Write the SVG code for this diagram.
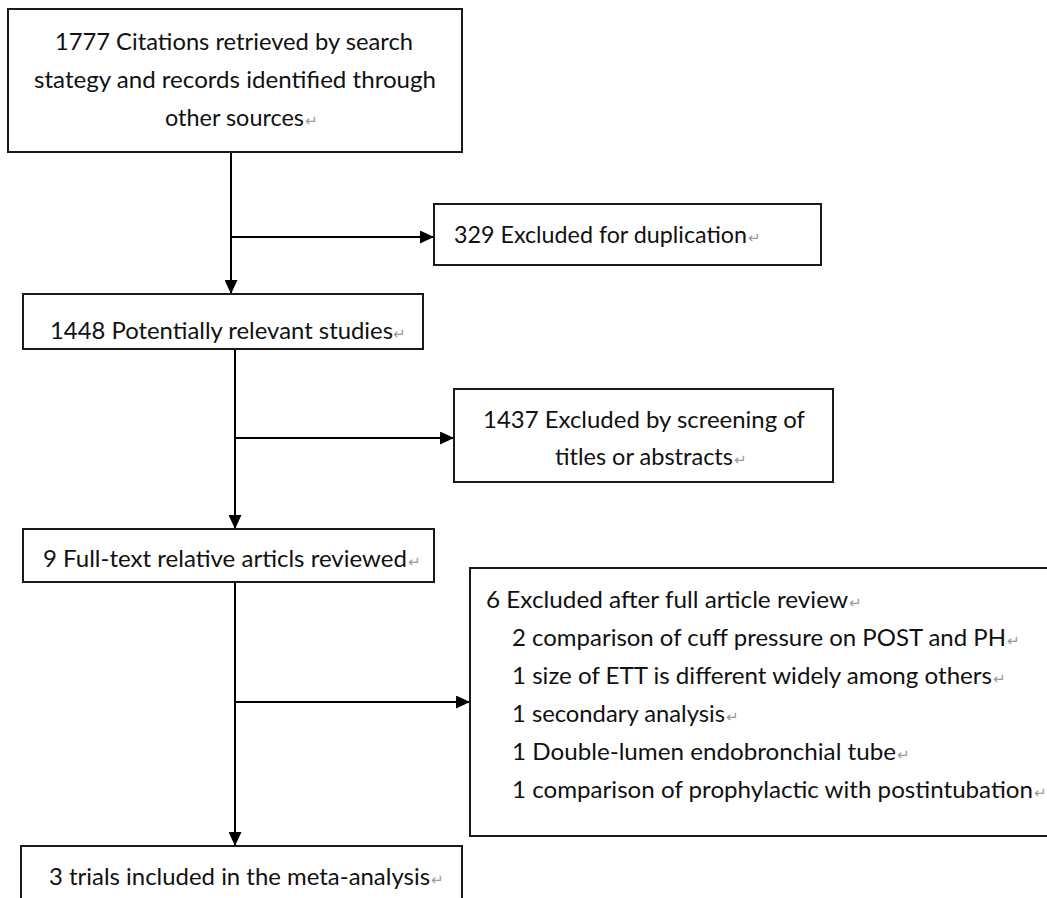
<svg xmlns="http://www.w3.org/2000/svg" width="1047" height="898" viewBox="0 0 1047 898">
<style>
.box{fill:#fff;stroke:#1a1a1a;stroke-width:2}
.t{font-family:Lato,"Liberation Sans",sans-serif;font-size:23px;fill:#111}
.r{font-family:"DejaVu Sans",sans-serif;font-size:15px;fill:#9a9a9a}
.c{stroke:#000;stroke-width:2;fill:none}
</style>
<defs>
<marker id="ah" viewBox="0 0 14 13" refX="14" refY="6.5" markerWidth="14" markerHeight="13" markerUnits="userSpaceOnUse" orient="auto">
<path d="M0,0 L14,6.5 L0,13 z" fill="#000"/>
</marker>
</defs>
<rect width="1047" height="898" fill="#fff"/>
<g id="connectors">
<line class="c" x1="231" y1="152" x2="231" y2="294" marker-end="url(#ah)"/>
<line class="c" x1="231" y1="237" x2="434" y2="237" marker-end="url(#ah)"/>
<line class="c" x1="235" y1="350" x2="235" y2="529" marker-end="url(#ah)"/>
<line class="c" x1="235" y1="438" x2="454" y2="438" marker-end="url(#ah)"/>
<line class="c" x1="235" y1="583" x2="235" y2="846" marker-end="url(#ah)"/>
<line class="c" x1="235" y1="702" x2="470" y2="702" marker-end="url(#ah)"/>
</g>
<g id="n1">
<rect class="box" x="8" y="9" width="454" height="143"/>
<text class="t" x="55" y="50" textLength="358" lengthAdjust="spacingAndGlyphs">1777 Citations retrieved by search</text>
<text class="t" x="34" y="88" textLength="402" lengthAdjust="spacingAndGlyphs">stategy and records identified through</text>
<text class="t" x="165" y="126" textLength="139" lengthAdjust="spacingAndGlyphs">other sources</text>
<text class="r" x="305" y="126">↵</text>
</g>
<g id="n2">
<rect class="box" x="434" y="204" width="387" height="61"/>
<text class="t" x="454" y="243" textLength="293" lengthAdjust="spacingAndGlyphs">329 Excluded for duplication</text>
<text class="r" x="748" y="243">↵</text>
</g>
<g id="n3">
<rect class="box" x="23" y="294" width="400" height="55"/>
<text class="t" x="50" y="339" textLength="343" lengthAdjust="spacingAndGlyphs">1448 Potentially relevant studies</text>
<text class="r" x="393" y="339">↵</text>
</g>
<g id="n4">
<rect class="box" x="454" y="389" width="379" height="93"/>
<text class="t" x="483" y="428" textLength="322" lengthAdjust="spacingAndGlyphs">1437 Excluded by screening of</text>
<text class="t" x="555" y="465" textLength="178" lengthAdjust="spacingAndGlyphs">titles or abstracts</text>
<text class="r" x="734" y="465">↵</text>
</g>
<g id="n5">
<rect class="box" x="23" y="529" width="411" height="53"/>
<text class="t" x="43" y="567" textLength="364" lengthAdjust="spacingAndGlyphs">9 Full-text relative articls reviewed</text>
<text class="r" x="408" y="567">↵</text>
</g>
<g id="n6">
<rect class="box" x="470" y="568" width="590" height="268"/>
<text class="t" x="486" y="608" textLength="362" lengthAdjust="spacingAndGlyphs">6 Excluded after full article review</text>
<text class="r" x="849" y="608">↵</text>
<text class="t" x="512" y="646" textLength="494" lengthAdjust="spacingAndGlyphs">2 comparison of cuff pressure on POST and PH</text>
<text class="r" x="1007" y="646">↵</text>
<text class="t" x="512" y="684" textLength="480" lengthAdjust="spacingAndGlyphs">1 size of ETT is different widely among others</text>
<text class="r" x="993" y="684">↵</text>
<text class="t" x="512" y="722" textLength="213" lengthAdjust="spacingAndGlyphs">1 secondary analysis</text>
<text class="r" x="726" y="722">↵</text>
<text class="t" x="512" y="760" textLength="384" lengthAdjust="spacingAndGlyphs">1 Double-lumen endobronchial tube</text>
<text class="r" x="897" y="760">↵</text>
<text class="t" x="512" y="798" textLength="521" lengthAdjust="spacingAndGlyphs">1 comparison of prophylactic with postintubation</text>
<text class="r" x="1034" y="798">↵</text>
</g>
<g id="n7">
<rect class="box" x="21" y="846" width="441" height="60"/>
<text class="t" x="49" y="885" textLength="381" lengthAdjust="spacingAndGlyphs">3 trials included in the meta-analysis</text>
<text class="r" x="431" y="885">↵</text>
</g>
</svg>
